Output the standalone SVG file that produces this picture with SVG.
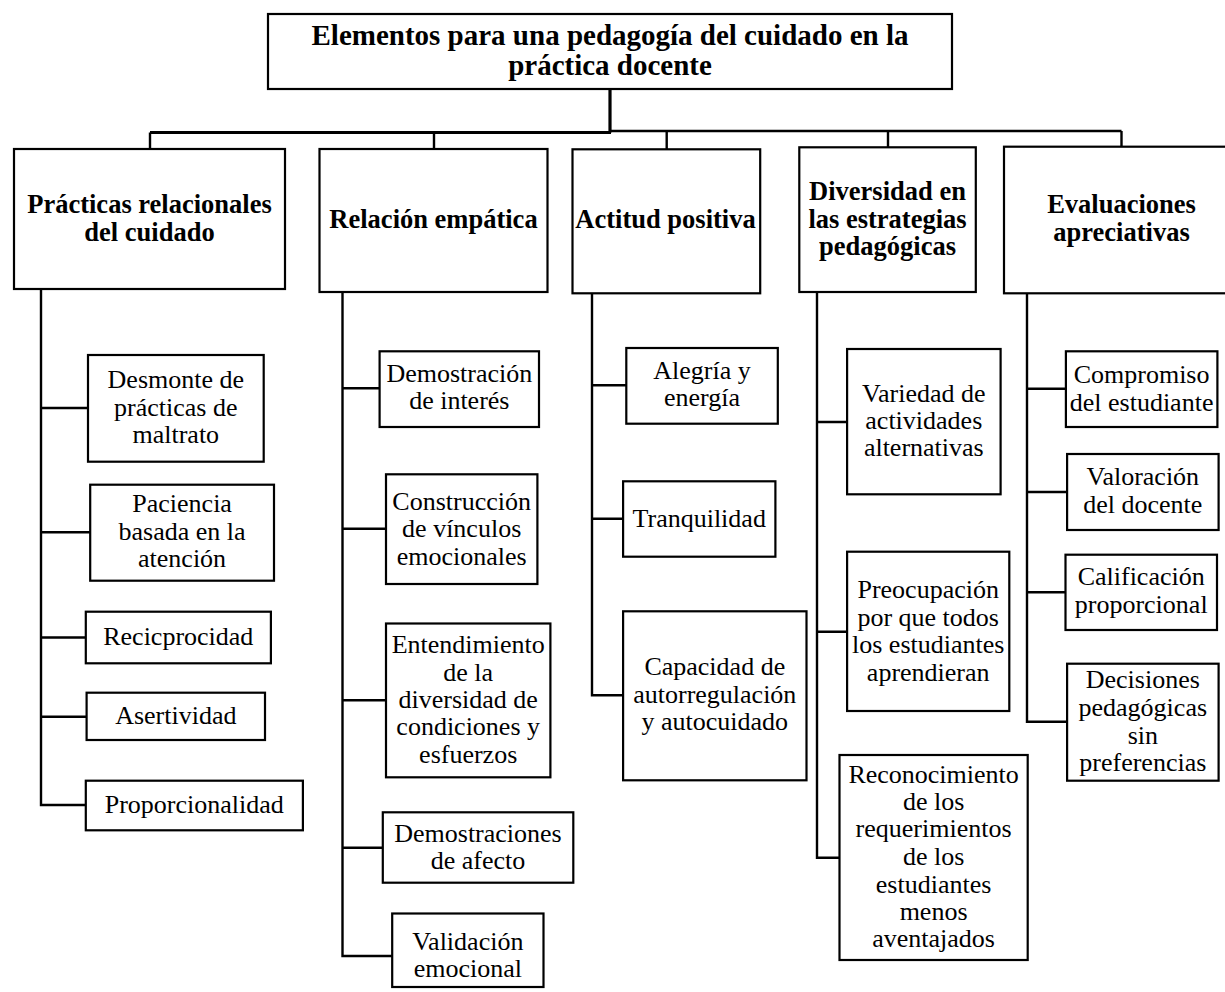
<svg xmlns="http://www.w3.org/2000/svg" width="1225" height="992" viewBox="0 0 1225 992">
<style>
.bx{fill:#fff;stroke:#000;stroke-width:2.2}
.ln{fill:none;stroke:#000;stroke-width:2.4}
.t{font-family:"Liberation Serif","Times New Roman",serif;font-size:26px;fill:#000;text-anchor:middle}
.h{font-family:"Liberation Serif","Times New Roman",serif;font-size:26.5px;font-weight:bold;fill:#000;text-anchor:middle}
.tt{font-family:"Liberation Serif","Times New Roman",serif;font-size:29px;font-weight:bold;fill:#000;text-anchor:middle}
</style>
<rect width="1225" height="992" fill="#fff"/>
<g id="connectors">
<path class="ln" style="stroke-width:3.2" d="M610,89 V132.5"/>
<path class="ln" style="stroke-width:3" d="M150,132.5 H611"/>
<path class="ln" d="M609,131 H1121.5"/>
<path class="ln" d="M150,132.5 V149 M434,132.5 V149 M666.7,131 V149.3 M888,131 V147.3 M1121.5,131 V146.7"/>
<path class="ln" d="M41,289 V805 H86 M41,408 H88 M41,532.3 H90 M41,637.5 H86 M41,716.7 H87"/>
<path class="ln" d="M342.5,292 V956 H392 M342.5,388.3 H380 M342.5,528.7 H386 M342.5,700.3 H386 M342.5,847.7 H383"/>
<path class="ln" d="M592,293.3 V695.3 H623 M592,385.3 H626 M592,518.7 H623"/>
<path class="ln" d="M817,292 V857.7 H839.5 M817,422 H847 M817,631.7 H847"/>
<path class="ln" d="M1027,293.3 V721.7 H1067 M1027,388.7 H1066 M1027,492 H1067 M1027,592.3 H1065.5"/>
</g>
<g id="title">
<rect class="bx" x="268" y="14" width="684" height="75"/>
<text class="tt" x="610" y="45">Elementos para una pedagogía del cuidado en la</text>
<text class="tt" x="610" y="75">práctica docente</text>
</g>
<g id="b1">
<rect class="bx" x="14" y="149" width="271" height="140"/>
<text class="h" x="149.5" y="213">Prácticas relacionales</text>
<text class="h" x="149.5" y="240.5">del cuidado</text>
</g>
<g id="b2">
<rect class="bx" x="319.5" y="149" width="228" height="143"/>
<text class="h" x="433.5" y="228">Relación empática</text>
</g>
<g id="b3">
<rect class="bx" x="572.5" y="149.3" width="187.7" height="144"/>
<text class="h" x="665.5" y="228">Actitud positiva</text>
</g>
<g id="b4">
<rect class="bx" x="799.3" y="147.3" width="176.5" height="144.7"/>
<text class="h" x="887.5" y="199.5">Diversidad en</text>
<text class="h" x="887.5" y="227.5">las estrategias</text>
<text class="h" x="887.5" y="255">pedagógicas</text>
</g>
<g id="b5">
<rect class="bx" x="1004" y="146.7" width="236" height="146.6"/>
<text class="h" x="1121.5" y="213">Evaluaciones</text>
<text class="h" x="1121.5" y="241">apreciativas</text>
</g>
<g id="c1a">
<rect class="bx" x="88" y="355" width="175.7" height="106.7"/>
<text class="t" x="175.8" y="388.3">Desmonte de</text>
<text class="t" x="175.8" y="416">prácticas de</text>
<text class="t" x="175.8" y="443.3">maltrato</text>
</g>
<g id="c1b">
<rect class="bx" x="90.2" y="484.7" width="183.8" height="96"/>
<text class="t" x="182.1" y="511.7">Paciencia</text>
<text class="t" x="182.1" y="540">basada en la</text>
<text class="t" x="182.1" y="567.3">atención</text>
</g>
<g id="c1c">
<rect class="bx" x="85.8" y="611.7" width="185.1" height="51.6"/>
<text class="t" x="178.3" y="645">Recicprocidad</text>
</g>
<g id="c1d">
<rect class="bx" x="86.6" y="692.7" width="178.4" height="47.3"/>
<text class="t" x="175.8" y="724">Asertividad</text>
</g>
<g id="c1e">
<rect class="bx" x="85.8" y="780.7" width="217.1" height="49.6"/>
<text class="t" x="194.3" y="812.7">Proporcionalidad</text>
</g>
<g id="c2a">
<rect class="bx" x="379.6" y="351.3" width="159.4" height="75.7"/>
<text class="t" x="459.3" y="381.7">Demostración</text>
<text class="t" x="459.3" y="409.3">de interés</text>
</g>
<g id="c2b">
<rect class="bx" x="386" y="474.3" width="151.4" height="109.7"/>
<text class="t" x="461.7" y="510">Construcción</text>
<text class="t" x="461.7" y="537.3">de vínculos</text>
<text class="t" x="461.7" y="565">emocionales</text>
</g>
<g id="c2c">
<rect class="bx" x="386" y="623.5" width="164.4" height="153.8"/>
<text class="t" x="468.2" y="653.3">Entendimiento</text>
<text class="t" x="468.2" y="680.7">de la</text>
<text class="t" x="468.2" y="708.3">diversidad de</text>
<text class="t" x="468.2" y="735">condiciones y</text>
<text class="t" x="468.2" y="762.7">esfuerzos</text>
</g>
<g id="c2d">
<rect class="bx" x="382.8" y="812.3" width="190.5" height="70.4"/>
<text class="t" x="478" y="841.7">Demostraciones</text>
<text class="t" x="478" y="869.3">de afecto</text>
</g>
<g id="c2e">
<rect class="bx" x="392.2" y="913.5" width="151.3" height="73.5"/>
<text class="t" x="467.8" y="950">Validación</text>
<text class="t" x="467.8" y="977.3">emocional</text>
</g>
<g id="c3a">
<rect class="bx" x="626.3" y="348" width="151.5" height="75.7"/>
<text class="t" x="702" y="379.3">Alegría y</text>
<text class="t" x="702" y="406">energía</text>
</g>
<g id="c3b">
<rect class="bx" x="623.1" y="481.3" width="152.3" height="75.4"/>
<text class="t" x="699.2" y="526.7">Tranquilidad</text>
</g>
<g id="c3c">
<rect class="bx" x="623.1" y="611.3" width="183.4" height="169"/>
<text class="t" x="714.8" y="675">Capacidad de</text>
<text class="t" x="714.8" y="702.7">autorregulación</text>
<text class="t" x="714.8" y="730">y autocuidado</text>
</g>
<g id="c4a">
<rect class="bx" x="847.1" y="349" width="153.5" height="145.3"/>
<text class="t" x="923.8" y="401.7">Variedad de</text>
<text class="t" x="923.8" y="429.3">actividades</text>
<text class="t" x="923.8" y="456">alternativas</text>
</g>
<g id="c4b">
<rect class="bx" x="847.1" y="551.7" width="162.2" height="159.3"/>
<text class="t" x="928.2" y="598.3">Preocupación</text>
<text class="t" x="928.2" y="625.7">por que todos</text>
<text class="t" x="928.2" y="653.3">los estudiantes</text>
<text class="t" x="928.2" y="680.7">aprendieran</text>
</g>
<g id="c4c">
<rect class="bx" x="839.5" y="755" width="188.2" height="205"/>
<text class="t" x="933.6" y="782.7">Reconocimiento</text>
<text class="t" x="933.6" y="810">de los</text>
<text class="t" x="933.6" y="837.3">requerimientos</text>
<text class="t" x="933.6" y="865">de los</text>
<text class="t" x="933.6" y="892.7">estudiantes</text>
<text class="t" x="933.6" y="920">menos</text>
<text class="t" x="933.6" y="946.7">aventajados</text>
</g>
<g id="c5a">
<rect class="bx" x="1065.9" y="351.3" width="151.5" height="75.7"/>
<text class="t" x="1141.6" y="383.3">Compromiso</text>
<text class="t" x="1141.6" y="411">del estudiante</text>
</g>
<g id="c5b">
<rect class="bx" x="1067.1" y="454" width="151.5" height="76"/>
<text class="t" x="1142.8" y="485">Valoración</text>
<text class="t" x="1142.8" y="513.3">del docente</text>
</g>
<g id="c5c">
<rect class="bx" x="1065.5" y="554.7" width="151.5" height="75.3"/>
<text class="t" x="1141.2" y="585">Calificación</text>
<text class="t" x="1141.2" y="612.7">proporcional</text>
</g>
<g id="c5d">
<rect class="bx" x="1067.1" y="663.7" width="151.5" height="117"/>
<text class="t" x="1142.8" y="688">Decisiones</text>
<text class="t" x="1142.8" y="715.5">pedagógicas</text>
<text class="t" x="1142.8" y="744">sin</text>
<text class="t" x="1142.8" y="770.5">preferencias</text>
</g>
</svg>
